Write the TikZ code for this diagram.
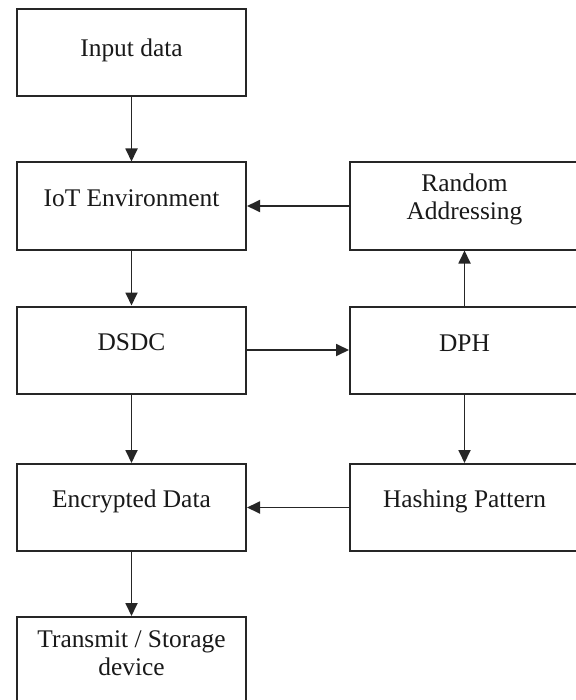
\documentclass[tikz,border=0pt]{standalone}
\usepackage{fontspec}
\setmainfont{Liberation Serif}
\usetikzlibrary{arrows.meta}
\begin{document}
\begin{tikzpicture}[x=0.5pt,y=-0.5pt,
  box/.style={draw=black!85, line width=1pt, rectangle, inner sep=0pt,
    minimum width=114.5pt, minimum height=43.5pt},
  lbl/.style={font=\fontsize{12.7}{14}\selectfont, align=center, text=black!90},
  flow/.style={draw=black!85, line width=0.9pt, -{Triangle[width=6pt,length=6.5pt]}}]
\useasboundingbox (0,0) rectangle (576,700);
\clip (0,0) rectangle (576,700);
\fill[white] (0,0) rectangle (576,700);

% left column
\node[box] (in)   at (131.5,53)   {};
\node[box] (iot)  at (131.5,206)  {};
\node[box] (dsdc) at (131.5,350)  {};
\node[box] (enc)  at (131.5,507.5){};
\node[box] (tx)   at (131.5,660.5){};
% right column (runs past the right edge)
\node[box] (ra)   at (464.5,206)  {};
\node[box] (dph)  at (464.5,350)  {};
\node[box] (hash) at (464.5,507.5){};

% labels, set in the upper part of each box
\node[lbl] (inT)   at ([yshift=-21pt]in.north)    {Input data};
\node[lbl] (iotT)  at ([yshift=-18.5pt]iot.north) {IoT Environment};
\node[lbl] (dsdcT) at ([yshift=-18.5pt]dsdc.north){DSDC};
\node[lbl] (encT)  at ([yshift=-19pt]enc.north)   {Encrypted Data};
\node[lbl] (txT)   at ([yshift=-18.5pt]tx.north)  {Transmit / Storage\\device};
\node[lbl] (raT)   at ([yshift=-19pt]ra.north)    {Random\\Addressing};
\node[lbl] (dphT)  at ([yshift=-19pt]dph.north)   {DPH};
\node[lbl] (hashT) at ([yshift=-19pt]hash.north)  {Hashing Pattern};

% connectors
\draw[flow] (in.south) -- (iot.north);
\draw[flow] (iot.south) -- (dsdc.north);
\draw[flow] (dsdc.south) -- (enc.north);
\draw[flow] (enc.south) -- (tx.north);
\draw[flow] (ra.west) -- (iot.east);
\draw[flow] (dsdc.east) -- (dph.west);
\draw[flow] (dph.north) -- (ra.south);
\draw[flow] (dph.south) -- (hash.north);
\draw[flow] (hash.west) -- (enc.east);
\end{tikzpicture}
\end{document}
